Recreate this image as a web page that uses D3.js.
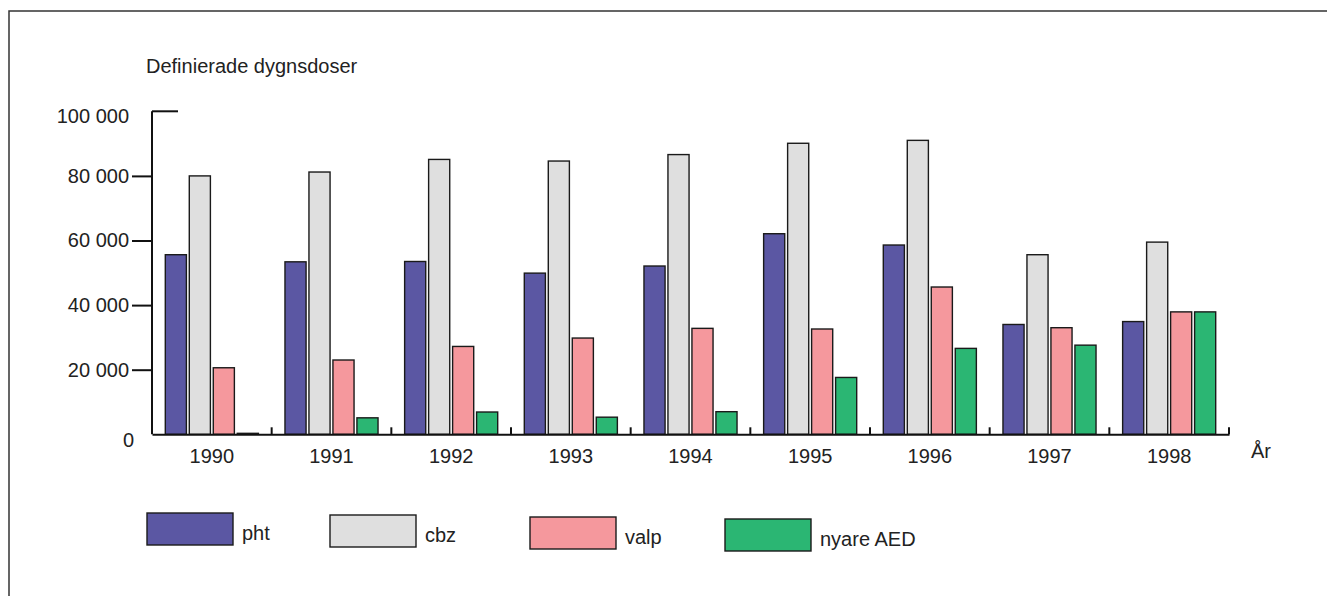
<!DOCTYPE html>
<html>
<head>
<meta charset="utf-8">
<script src="https://cdn.jsdelivr.net/npm/d3@7"></script>
<style>
  html, body { margin: 0; padding: 0; background: #fff; }
  svg { display: block; }
  text { font-family: "Liberation Sans", Arial, Helvetica, sans-serif; fill: #222; }
</style>
</head>
<body>
<div id="chart"></div>
<script>
// Data: defined daily doses per year and drug group
const years = ["1990", "1991", "1992", "1993", "1994", "1995", "1996", "1997", "1998"];
const seriesNames = ["pht", "cbz", "valp", "nyare AED"];
const pht   = [55600, 53400, 53500, 49900, 52100, 62100, 58600, 34000, 34900];
const cbz   = [80000, 81200, 85100, 84600, 86600, 90100, 91000, 55600, 59500];
const valp  = [20600, 23000, 27200, 29800, 32800, 32600, 45600, 33000, 37900];
const nyare = [300,   5100,  6900,  5300,  7000,  17600, 26600, 27600, 37900];
const yTicks = [0, 20000, 40000, 60000, 80000, 100000];

(function () {
  const W = 1327, H = 596;
  const FS = "20px";
  const colors = ["#5b57a3", "#dfdfdf", "#f5989d", "#2bb673"];
  const values = [pht, cbz, valp, nyare];

  const svg = d3.select("#chart").append("svg")
    .attr("width", W).attr("height", H);

  // frame (left + top only)
  svg.append("path").attr("d", `M9,${H} V11 H${W}`)
    .attr("fill", "none").attr("stroke", "#333").attr("stroke-width", 1.5);

  // title
  svg.append("text").attr("x", 146).attr("y", 73)
    .style("font-size", FS).text("Definierade dygnsdoser");

  const x0 = d3.scaleBand().domain(years).range([152, 1229]);
  const pad = 13.3;
  const x1 = d3.scaleBand().domain(seriesNames)
    .range([pad, x0.bandwidth() - pad]).paddingInner(0.12);
  const y = d3.scaleLinear().domain([0, 100000]).range([434.3, 111.3]);

  const fmt = d3.formatLocale({ thousands: " ", grouping: [3], decimal: ",", currency: ["", ""] }).format(",");

  // bars
  const groups = svg.append("g").selectAll("g").data(years).enter().append("g")
    .attr("transform", d => `translate(${x0(d)},0)`);
  groups.selectAll("rect")
    .data((yr, i) => seriesNames.map((s, j) => ({ s, j, v: values[j][i] })))
    .enter().append("rect")
    .attr("x", d => x1(d.s)).attr("width", x1.bandwidth())
    .attr("y", d => y(d.v)).attr("height", d => y(0) - y(d.v))
    .attr("fill", d => colors[d.j])
    .attr("stroke", "#1a1a1a").attr("stroke-width", 1.4);

  // Y axis
  const yAxis = svg.append("g").attr("transform", "translate(152,0)")
    .call(d3.axisLeft(y).tickValues(yTicks).tickSize(20).tickPadding(3).tickFormat(fmt));
  yAxis.select(".domain").attr("stroke", "#111").attr("stroke-width", 2)
    .attr("d", `M0,${y(100000)}V${y(0)}`);
  yAxis.selectAll(".tick line").attr("stroke", "#111").attr("stroke-width", 2);
  yAxis.selectAll(".tick text").style("font-size", FS).style("font-family", null)
    .attr("fill", "#222");
  yAxis.selectAll(".tick").filter(d => d === 0 || d === 100000).select("line").remove();
  yAxis.selectAll(".tick").filter(d => d === 0).select("text").attr("x", -18).attr("dy", "0.62em");
  yAxis.selectAll(".tick").filter(d => d === 100000).select("text").attr("dy", "0.58em");
  // top tick points inward
  yAxis.append("line").attr("x1", 0).attr("x2", 26)
    .attr("y1", y(100000)).attr("y2", y(100000))
    .attr("stroke", "#111").attr("stroke-width", 2);

  // X axis
  const xAxis = svg.append("g").attr("transform", `translate(0,${y(0)})`)
    .call(d3.axisBottom(x0).tickSize(0).tickPadding(15));
  xAxis.select(".domain").attr("stroke", "#111").attr("stroke-width", 2);
  xAxis.selectAll(".tick text").style("font-size", FS).style("font-family", null)
    .attr("fill", "#222");
  xAxis.selectAll(".sep").data(years).enter().append("line")
    .attr("x1", d => x0(d) + x0.step()).attr("x2", d => x0(d) + x0.step())
    .attr("y1", 0).attr("y2", -7)
    .attr("stroke", "#111").attr("stroke-width", 2);

  svg.append("text").attr("x", 1251).attr("y", 458)
    .style("font-size", FS).text("År");

  // legend
  const legX = [147, 330, 530, 725];
  const legY = [513, 515, 517, 519];
  const leg = svg.append("g").selectAll("g").data(seriesNames).enter().append("g")
    .attr("transform", (d, i) => `translate(${legX[i]},${legY[i]})`);
  leg.append("rect").attr("width", 86).attr("height", 32)
    .attr("fill", (d, i) => colors[i])
    .attr("stroke", "#1a1a1a").attr("stroke-width", 1.4);
  leg.append("text").attr("x", 95).attr("y", 27)
    .style("font-size", FS).text(d => d);
})();
</script>
</body>
</html>
